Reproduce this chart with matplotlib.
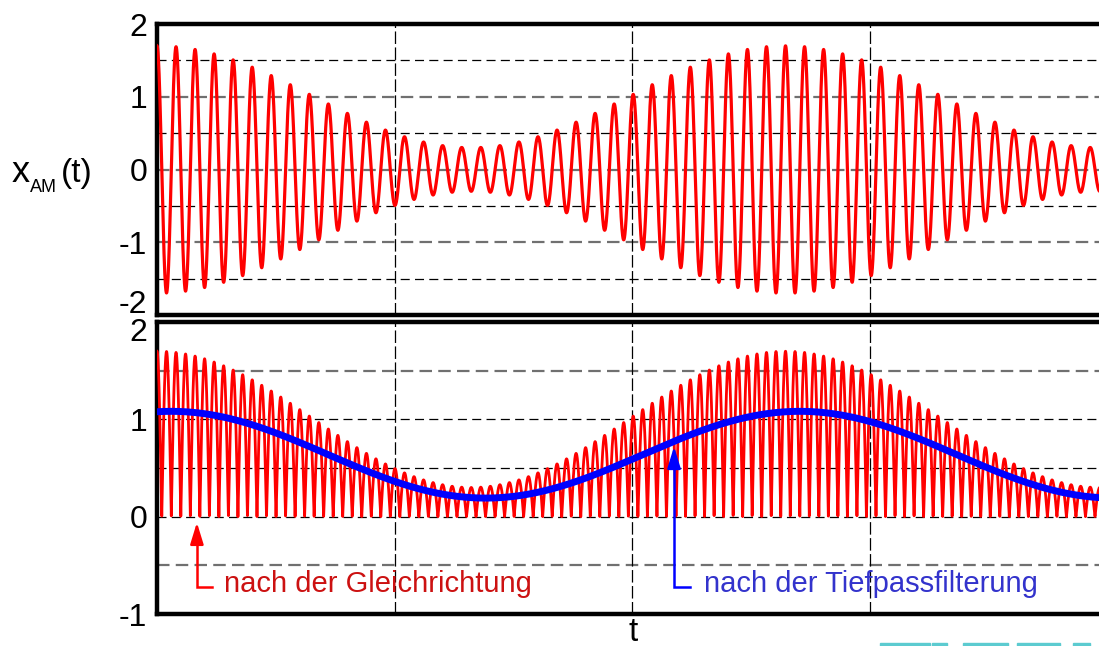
import numpy as np
import matplotlib
matplotlib.use("Agg")
from matplotlib import pyplot as plt
from matplotlib.patches import Rectangle

plt.rcParams['font.family'] = ['Liberation Sans', 'DejaVu Sans']
plt.rcParams['lines.scale_dashes'] = False

# AM signal parameters (time axis in grid units)
t_end = 4.0
amp_max = 1.7              # envelope maximum
amp_min = 0.3              # envelope minimum
carrier_per_unit = 12.47   # carrier periods per grid unit
carrier_per_mod = 33       # carrier periods per message period
lp_delay = 0.06            # delay of the lowpass output
t_grid = [1, 2, 3]

yticks_top = [-2, -1, 0, 1, 2]
ygrid_top = [-1.5, -1, -0.5, 0, 0.5, 1, 1.5]
yticks_bot = [-1, 0, 1, 2]
ygrid_bot = [-0.5, 0, 0.5, 1, 1.5]

label_rect = "nach der Gleichrichtung"
label_lp = "nach der Tiefpassfilterung"

W, H = 1099, 646
fig = plt.figure(figsize=(W / 100, H / 100), dpi=100)

def px_axes(left, top, right, bottom):
    return fig.add_axes([left / W, 1 - bottom / H, (right - left) / W, (bottom - top) / H])

ax1 = px_axes(157, 24, 1107, 315)
ax2 = px_axes(157, 322, 1107, 614)

t = np.linspace(0, t_end, 20000)
f_c = carrier_per_unit
f_m = carrier_per_unit / carrier_per_mod
a0 = (amp_max + amp_min) / 2
m = (amp_max - amp_min) / 2
env = a0 + m * np.cos(2 * np.pi * f_m * t)
x_am = env * np.cos(2 * np.pi * f_c * t)
x_rect = np.abs(x_am)
x_lp = 2 / np.pi * (a0 + m * np.cos(2 * np.pi * f_m * (t - lp_delay)))

def style(ax, ylim, yticks, ygrid, grey_lines):
    ax.set_xlim(0, t_end)
    ax.set_ylim(*ylim)
    for y in ygrid:
        if y in grey_lines:
            ax.axhline(y, color='#707070', lw=1.6, ls=(0, (9, 4.5)), zorder=1)
        else:
            ax.axhline(y, color='black', lw=0.9, ls=(0, (6.5, 3.8)), zorder=1)
    for x in t_grid:
        ax.axvline(x, color='black', lw=0.9, ls=(0, (9, 2.5)), zorder=1)
    ax.set_xticks([])
    ax.set_yticks(yticks)
    ax.set_yticklabels([str(v) for v in yticks], fontsize=23)
    ax.tick_params(axis='y', length=0, pad=7)
    for s in ['left', 'top', 'bottom']:
        ax.spines[s].set_linewidth(3.2)
    ax.spines['right'].set_visible(False)

style(ax1, (-2, 2), yticks_top, ygrid_top, [-1, 0, 1])
style(ax2, (-1, 2), yticks_bot, ygrid_bot, [-0.5, 1.5])

ax1.plot(t, x_am, color='#ff0000', lw=2.3, zorder=3)
ax2.plot(t, x_rect, color='#ff0000', lw=2.0, zorder=3)
ax2.plot(t, x_lp, color='#0000ff', lw=5.0, zorder=4)

# the labels next to the panel gap are moved apart
def shifted_label(ax, value, dy):
    ax.get_yticklabels()[yticks_list(ax).index(value)].set_visible(False)
    ax.annotate(str(value), xy=(0, value), xycoords=('axes fraction', 'data'),
                xytext=(-7, dy), textcoords='offset points', ha='right', va='center',
                fontsize=23)

def yticks_list(ax):
    return [int(v) for v in ax.get_yticks()]

shifted_label(ax1, -2, 7)
shifted_label(ax2, 2, -8)

# arrows with labels
def bent_arrow(ax, x, y_tip, y_corner, x_end, color):
    ax.plot([x, x, x_end], [y_tip - 0.1, y_corner, y_corner], color=color, lw=1.8,
            solid_joinstyle='miter', zorder=5, clip_on=False)
    ax.annotate('', xy=(x, y_tip), xytext=(x, y_tip - 0.2),
                arrowprops=dict(arrowstyle='-|>,head_length=0.65,head_width=0.2',
                                mutation_scale=20, color=color, lw=1.8,
                                shrinkA=0, shrinkB=0), zorder=6)

bent_arrow(ax2, 0.168, -0.06, -0.72, 0.232, '#ff0000')
bent_arrow(ax2, 2.177, 0.72, -0.72, 2.244, '#0000ff')
ax2.text(0.282, -0.77, label_rect, color='#cc1111', fontsize=21, va='baseline', zorder=6)
ax2.text(2.303, -0.77, label_lp, color='#3333cc', fontsize=21, va='baseline', zorder=6)

# axis labels
fig.text(12 / W, 1 - 182 / H, 'x', fontsize=26, va='baseline', ha='left')
fig.text(30 / W, 1 - 192 / H, 'AM', fontsize=13, va='baseline', ha='left')
fig.text(61 / W, 1 - 182 / H, '(t)', fontsize=24, va='baseline', ha='left')
fig.text(633 / W, 1 - 641 / H, 't', fontsize=24, va='baseline', ha='center')

# logo fragment at the lower edge
for x0, x1 in [(880, 930), (932, 947), (963, 1008), (1017, 1060), (1073, 1090)]:
    fig.patches.append(Rectangle((x0 / W, 0), (x1 - x0) / W, 3 / H, transform=fig.transFigure,
                                 color='#5ccbd0', zorder=0))

fig.savefig('out.png', dpi=100)
